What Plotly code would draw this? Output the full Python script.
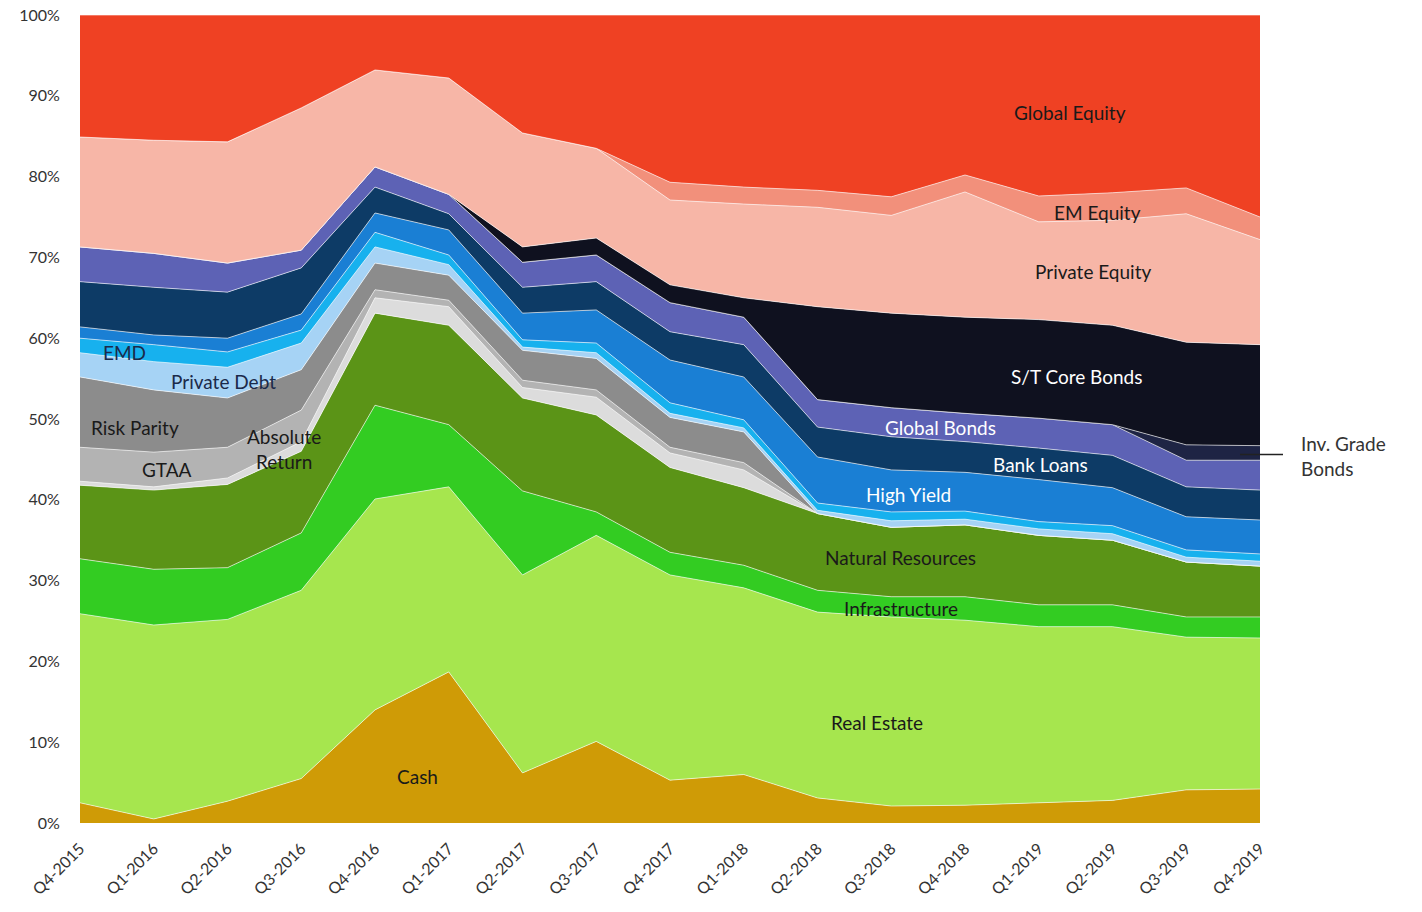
import plotly.graph_objects as go

quarters = ["Q4-2015", "Q1-2016", "Q2-2016", "Q3-2016", "Q4-2016", "Q1-2017", "Q2-2017",
            "Q3-2017", "Q4-2017", "Q1-2018", "Q2-2018", "Q3-2018", "Q4-2018", "Q1-2019",
            "Q2-2019", "Q3-2019", "Q4-2019"]

cash = [2.5, 0.5, 2.7, 5.5, 14.0, 18.7, 6.2, 10.1, 5.3, 6.0, 3.1, 2.1, 2.2, 2.5, 2.8, 4.1, 4.2]
real_estate = [23.4, 24.0, 22.5, 23.3, 26.1, 22.9, 24.5, 25.5, 25.4, 23.1, 23.0, 23.4, 22.9, 21.8, 21.5, 18.9, 18.7]
infrastructure = [6.8, 6.9, 6.4, 7.1, 11.6, 7.7, 10.4, 2.9, 2.8, 2.8, 2.7, 2.5, 2.9, 2.7, 2.7, 2.5, 2.6]
natural_resources = [9.1, 9.8, 10.3, 10.1, 11.4, 12.3, 11.5, 12.0, 10.5, 9.6, 9.5, 8.6, 8.9, 8.6, 8.0, 6.8, 6.3]
absolute_return = [0.5, 0.4, 0.8, 1.2, 1.9, 2.3, 1.3, 2.2, 1.8, 2.2, 0, 0, 0, 0, 0, 0, 0]
gtaa = [4.2, 4.3, 3.8, 3.9, 1.0, 0.8, 0.9, 0.9, 0.7, 0.9, 0, 0, 0, 0, 0, 0, 0]
risk_parity = [8.7, 7.7, 6.1, 5.0, 3.3, 3.1, 3.7, 3.9, 3.7, 3.8, 0, 0, 0, 0, 0, 0, 0]
private_debt = [3.0, 3.5, 3.8, 3.3, 2.0, 1.3, 0.4, 0.7, 0.5, 0.5, 0.4, 0.8, 0.7, 0.8, 0.8, 0.6, 0.6]
emd = [1.8, 2.1, 1.9, 1.6, 1.8, 1.2, 0.9, 1.2, 1.3, 1.0, 0.9, 1.1, 1.0, 0.9, 1.0, 0.9, 0.9]
high_yield = [1.4, 1.2, 1.7, 2.0, 2.4, 3.1, 3.3, 4.1, 5.3, 5.3, 5.7, 5.2, 4.8, 5.2, 4.7, 4.1, 4.2]
bank_loans = [5.6, 5.9, 5.7, 5.7, 3.2, 2.0, 3.2, 3.5, 3.5, 4.0, 3.7, 4.1, 3.8, 3.9, 4.0, 3.7, 3.7]
global_bonds = [4.3, 4.2, 3.6, 2.2, 2.5, 2.4, 3.1, 3.3, 3.6, 3.4, 3.4, 3.6, 3.5, 3.7, 3.8, 3.3, 3.7]
inv_grade_bonds = [0, 0, 0, 0, 0, 0, 0, 0, 0, 0, 0, 0, 0, 0, 0, 1.9, 1.8]
st_core_bonds = [0, 0, 0, 0, 0, 0, 1.9, 2.1, 2.2, 2.4, 11.5, 11.7, 11.9, 12.2, 12.3, 12.7, 12.5]
private_equity = [13.6, 14.0, 15.0, 17.6, 12.0, 14.4, 14.1, 11.1, 10.5, 11.6, 12.3, 12.1, 15.5, 12.1, 13.0, 15.9, 13.0]
em_equity = [0, 0, 0, 0, 0, 0, 0, 0, 2.2, 2.1, 2.1, 2.3, 2.1, 3.2, 3.4, 3.2, 2.8]
global_equity = [15.1, 15.5, 15.7, 11.5, 6.8, 7.8, 14.6, 16.5, 20.7, 21.3, 21.7, 22.5, 19.8, 22.4, 22.0, 21.4, 25.0]

series = [
    ("Cash", cash, "#cf9b06"),
    ("Real Estate", real_estate, "#a6e64e"),
    ("Infrastructure", infrastructure, "#33cc22"),
    ("Natural Resources", natural_resources, "#5b9417"),
    ("Absolute Return", absolute_return, "#dcdcdc"),
    ("GTAA", gtaa, "#b3b3b3"),
    ("Risk Parity", risk_parity, "#8c8c8c"),
    ("Private Debt", private_debt, "#a6d3f5"),
    ("EMD", emd, "#17b1ee"),
    ("High Yield", high_yield, "#1a7fd4"),
    ("Bank Loans", bank_loans, "#0d3b66"),
    ("Global Bonds", global_bonds, "#5d62b5"),
    ("Inv. Grade Bonds", inv_grade_bonds, "#1e2444"),
    ("S/T Core Bonds", st_core_bonds, "#0f111f"),
    ("Private Equity", private_equity, "#f7b6a7"),
    ("EM Equity", em_equity, "#f2907b"),
    ("Global Equity", global_equity, "#ef4123"),
]

x = list(range(len(quarters)))

fig = go.Figure()
for name, vals, color in series:
    fig.add_trace(go.Scatter(
        x=x, y=vals, name=name, mode="lines", stackgroup="one",
        line=dict(width=1, color="rgba(255,255,255,0.6)"),
        fillcolor=color, hoverinfo="name+y",
    ))

FONT = "Lato, 'Open Sans', sans-serif"
dark = "#1a1a1a"
labels = [
    ("Global Equity", 13.42, 87.9, dark),
    ("EM Equity", 13.79, 75.6, dark),
    ("Private Equity", 13.74, 68.3, dark),
    ("S/T Core Bonds", 13.52, 55.3, "white"),
    ("Global Bonds", 11.67, 48.9, "white"),
    ("Bank Loans", 13.02, 44.4, "white"),
    ("High Yield", 11.24, 40.7, "white"),
    ("Natural Resources", 11.13, 32.9, dark),
    ("Infrastructure", 11.13, 26.6, dark),
    ("Real Estate", 10.81, 12.4, dark),
    ("Cash", 4.58, 5.8, dark),
    ("EMD", 0.61, 58.2, "#1b2a4a"),
    ("Private Debt", 1.94, 54.7, "#1b2a4a"),
    ("Risk Parity", 0.75, 48.9, dark),
    ("GTAA", 1.18, 43.7, dark),
    ("Absolute<br>Return", 2.77, 46.3, dark),
]
annotations = []
for text, ax_, ay_, col in labels:
    annotations.append(dict(
        x=ax_, y=ay_, xref="x", yref="y", text=text, showarrow=False,
        font=dict(family=FONT, size=19, color=col), xanchor="center", yanchor="middle",
    ))
annotations.append(dict(
    x=(1299 - 80) / 1180, y=45.4, xref="paper", yref="y", text="Inv. Grade<br>Bonds",
    showarrow=False, align="left", xanchor="left", yanchor="middle",
    font=dict(family=FONT, size=19, color="#333333"),
))

fig.update_layout(
    width=1422, height=912,
    margin=dict(l=80, r=162, t=15, b=89, autoexpand=False),
    paper_bgcolor="white", plot_bgcolor="white",
    showlegend=False,
    annotations=annotations,
    shapes=[dict(type="line", xref="paper", yref="y",
                 x0=(1240 - 80) / 1180, x1=(1283 - 80) / 1180, y0=45.6, y1=45.6,
                 line=dict(color="#222222", width=1.5))],
    xaxis=dict(range=[0, 16], tickmode="array", tickvals=x, ticktext=quarters,
               tickangle=-45, showgrid=False, zeroline=False, showline=False,
               automargin=False, ticks="outside", ticklen=9, tickcolor="rgba(0,0,0,0)",
               tickfont=dict(family=FONT, size=16, color="#333333")),
    yaxis=dict(range=[0, 100], tickmode="array", tickvals=list(range(0, 101, 10)),
               ticktext=[f"{v}%" for v in range(0, 101, 10)],
               showgrid=False, zeroline=False, showline=False, automargin=False,
               ticks="outside", ticklen=16, tickcolor="rgba(0,0,0,0)",
               tickfont=dict(family=FONT, size=16, color="#333333")),
)

fig.write_html("out.html", config={"displayModeBar": False},
               post_script="document.body.style.margin='0';")
